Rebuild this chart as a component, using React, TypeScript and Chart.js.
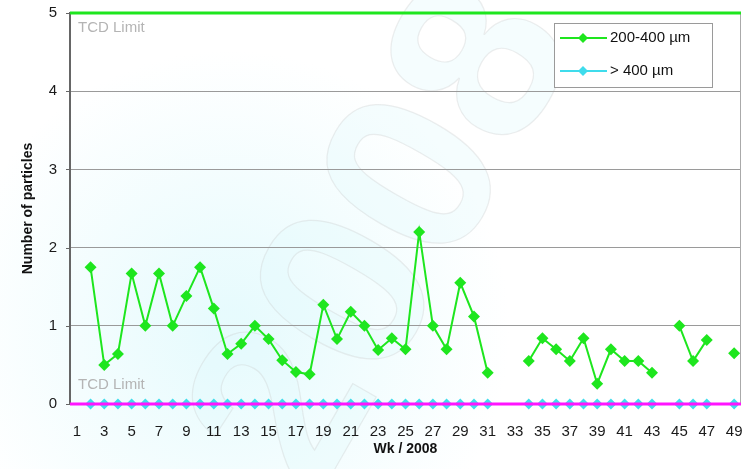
import { useEffect, useRef } from 'react';
import { Chart, registerables } from 'chart.js';

Chart.register(...registerables);

const weeks = ["1","2","3","4","5","6","7","8","9","10","11","12","13","14","15","16","17","18","19","20","21","22","23","24","25","26","27","28","29","30","31","32","33","34","35","36","37","38","39","40","41","42","43","44","45","46","47","48","49"];

const particles200to400 = [null,1.75,0.5,0.64,1.67,1,1.67,1,1.38,1.75,1.22,0.64,0.77,1,0.83,0.56,0.41,0.38,1.27,0.83,1.18,1,0.69,0.84,0.7,2.2,1,0.7,1.55,1.12,0.4,null,null,0.55,0.84,0.7,0.55,0.84,0.26,0.7,0.55,0.55,0.4,null,1,0.55,0.82,null,0.65];

const particlesOver400 = [null,0,0,0,0,0,0,0,0,0,0,0,0,0,0,0,0,0,0,0,0,0,0,0,0,0,0,0,0,0,0,null,null,0,0,0,0,0,0,0,0,0,0,null,0,0,0,null,0];

const seriesNames = ["200-400 µm", "> 400 µm"];
const limitValues = [5, 0];
const limitLabel = "TCD Limit";
const yTicks = [0, 1, 2, 3, 4, 5];

const GREEN = '#1ee61e';
const CYAN = '#3fdcec';
const MAGENTA = '#ff14ff';
const FONT = '"Liberation Sans", Arial, sans-serif';

const watermarkPlugin = {
  id: 'watermark',
  beforeDraw(chart: any) {
    const { ctx } = chart;
    ctx.save();
    ctx.fillStyle = '#ffffff';
    ctx.fillRect(0, 0, chart.width, chart.height);
    const g = ctx.createRadialGradient(230, 330, 20, 230, 330, 280);
    g.addColorStop(0, 'rgba(215,248,252,0.6)');
    g.addColorStop(1, 'rgba(215,248,252,0)');
    ctx.fillStyle = g;
    ctx.fillRect(0, 0, chart.width, chart.height);
    ctx.translate(390, 240);
    ctx.rotate(-1.05);
    ctx.font = `bold 240px ${FONT}`;
    ctx.textAlign = 'center';
    ctx.textBaseline = 'middle';
    ctx.fillStyle = 'rgba(225,250,253,0.35)';
    ctx.fillText('2008', 0, 0);
    ctx.lineWidth = 1.2;
    ctx.strokeStyle = 'rgba(200,200,200,0.3)';
    ctx.strokeText('2008', 0, 0);
    ctx.restore();
  },
};

const limitsPlugin = {
  id: 'limits',
  afterDatasetsDraw(chart: any) {
    const { ctx, chartArea } = chart;
    const y = chart.scales.y;
    const colors = [GREEN, MAGENTA];
    ctx.save();
    ctx.strokeStyle = '#666666';
    ctx.lineWidth = 1;
    yTicks.forEach((v) => {
      const py = Math.round(y.getPixelForValue(v)) + 0.5;
      ctx.beginPath();
      ctx.moveTo(chartArea.left - 4, py);
      ctx.lineTo(chartArea.left, py);
      ctx.stroke();
    });
    ctx.strokeStyle = '#aaaaaa';
    ctx.beginPath();
    ctx.moveTo(chartArea.right - 0.5, chartArea.top);
    ctx.lineTo(chartArea.right - 0.5, chartArea.bottom);
    ctx.stroke();
    limitValues.forEach((v, i) => {
      const py = y.getPixelForValue(v);
      ctx.strokeStyle = colors[i];
      ctx.lineWidth = 3;
      ctx.beginPath();
      ctx.moveTo(chartArea.left, py);
      ctx.lineTo(chartArea.right, py);
      ctx.stroke();
      ctx.fillStyle = '#b4b4b4';
      ctx.font = `15px ${FONT}`;
      ctx.textAlign = 'left';
      ctx.textBaseline = 'middle';
      const ty = v === 5 ? py + 15 : py - 19;
      ctx.fillText(limitLabel, chartArea.left + 8, ty);
    });
    ctx.restore();
  },
};

const legendPlugin = {
  id: 'customLegend',
  afterDraw(chart: any) {
    const { ctx, chartArea } = chart;
    const x0 = chartArea.right - 187;
    const y0 = chartArea.top + 10;
    const w = 158;
    const h = 64;
    ctx.save();
    ctx.fillStyle = '#ffffff';
    ctx.fillRect(x0, y0, w, h);
    ctx.strokeStyle = '#9a9a9a';
    ctx.lineWidth = 1;
    ctx.strokeRect(x0 + 0.5, y0 + 0.5, w, h);
    const cols = [GREEN, CYAN];
    seriesNames.forEach((name, i) => {
      const cy = y0 + 15 + i * 33;
      ctx.strokeStyle = cols[i];
      ctx.lineWidth = 2;
      ctx.beginPath();
      ctx.moveTo(x0 + 6, cy);
      ctx.lineTo(x0 + 53, cy);
      ctx.stroke();
      ctx.fillStyle = cols[i];
      const r = 5;
      const cx = x0 + 29;
      ctx.beginPath();
      ctx.moveTo(cx, cy - r);
      ctx.lineTo(cx + r, cy);
      ctx.lineTo(cx, cy + r);
      ctx.lineTo(cx - r, cy);
      ctx.closePath();
      ctx.fill();
      ctx.fillStyle = '#111111';
      ctx.font = `15px ${FONT}`;
      ctx.textAlign = 'left';
      ctx.textBaseline = 'middle';
      ctx.fillText(name, x0 + 56, cy);
    });
    ctx.restore();
  },
};

export default function App() {
  const ref = useRef<HTMLCanvasElement>(null);
  useEffect(() => {
    document.body.style.margin = '0';
    if (!ref.current) return;
    const chart = new Chart(ref.current, {
      type: 'line',
      data: {
        labels: weeks,
        datasets: [
          {
            label: seriesNames[0],
            data: particles200to400,
            borderColor: GREEN,
            backgroundColor: GREEN,
            borderWidth: 2,
            pointStyle: 'rectRot',
            pointRadius: 6,
            pointBorderWidth: 0,
            tension: 0,
            spanGaps: false,
            clip: false,
          },
          {
            label: seriesNames[1],
            data: particlesOver400,
            borderColor: CYAN,
            backgroundColor: CYAN,
            borderWidth: 2,
            pointStyle: 'rectRot',
            pointRadius: 5.5,
            pointBorderWidth: 0,
            tension: 0,
            spanGaps: false,
            clip: false,
          },
        ],
      },
      options: {
        responsive: false,
        animation: false,
        layout: { autoPadding: false, padding: { left: 20, right: 1, top: 13, bottom: 0 } },
        plugins: {
          legend: { display: false },
          tooltip: { enabled: false },
        },
        scales: {
          x: {
            offset: true,
            grid: { display: false, drawTicks: true, tickLength: 19 },
            border: { display: false },
            ticks: {
              autoSkip: false,
              maxRotation: 0,
              minRotation: 0,
              padding: 0,
              color: '#1a1a1a',
              font: { family: FONT, size: 15 },
              callback: (_v: any, i: number) => (i % 2 === 0 ? weeks[i] : ''),
            },
            title: {
              display: true,
              text: 'Wk / 2008',
              color: '#111111',
              font: { family: FONT, size: 14, weight: 'bold' },
              padding: { top: 0, bottom: 11 },
            },
            afterFit: (s: any) => {
              s.height = 65;
              s.paddingLeft = 0;
              s.paddingRight = 0;
            },
          },
          y: {
            min: 0,
            max: 5,
            afterBuildTicks: (s: any) => { s.ticks = yTicks.map((v) => ({ value: v })); },
            grid: { color: '#9a9a9a', lineWidth: 1, tickLength: 10, tickColor: 'rgba(0,0,0,0)' },
            border: { color: '#666666', width: 2 },
            ticks: {
              padding: 3,
              color: '#1a1a1a',
              font: { family: FONT, size: 15 },
            },
            title: {
              display: true,
              text: 'Number of particles',
              color: '#111111',
              font: { family: FONT, size: 14, weight: 'bold' },
              padding: { top: 0, bottom: 0 },
            },
            afterFit: (s: any) => { s.width = 50; },
          },
        },
      },
      plugins: [watermarkPlugin, limitsPlugin, legendPlugin],
    });
    return () => chart.destroy();
  }, []);
  return (
    <div style={{ width: 742, height: 469 }}>
      <canvas ref={ref} width={742} height={469} style={{ display: 'block' }} />
    </div>
  );
}
